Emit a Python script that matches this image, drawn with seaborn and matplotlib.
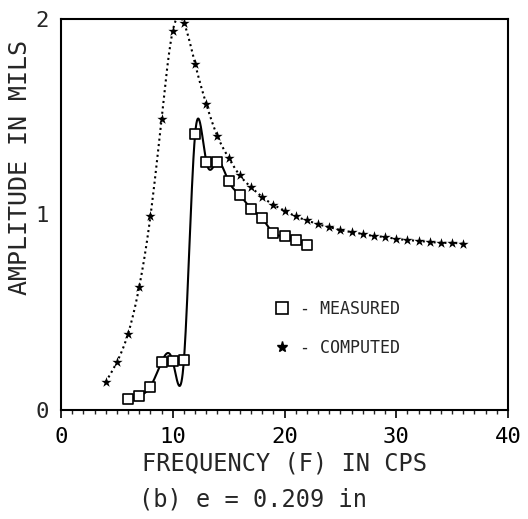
import numpy as np
import pandas as pd
import matplotlib
matplotlib.use("Agg")
import matplotlib.pyplot as plt
from matplotlib.lines import Line2D
from matplotlib.ticker import MultipleLocator
import seaborn as sns

# ---- data ----
freq_computed = [4, 5, 6, 7, 8, 9, 10, 11, 12, 13, 14, 15, 16, 17, 18, 19, 20,
                 21, 22, 23, 24, 25, 26, 27, 28, 29, 30, 31, 32, 33, 34, 35, 36]
amp_computed = [0.143, 0.245, 0.39, 0.63, 0.99, 1.49, 1.94, 1.98, 1.77, 1.565,
                1.40, 1.29, 1.20, 1.14, 1.09, 1.05, 1.02, 0.99, 0.97, 0.95,
                0.936, 0.92, 0.91, 0.90, 0.89, 0.885, 0.875, 0.87, 0.865,
                0.86, 0.855, 0.855, 0.85]

freq_measured = [6, 7, 8, 9, 10, 11, 12, 13, 14, 15, 16, 17, 18, 19, 20, 21, 22]
amp_measured = [0.056, 0.072, 0.12, 0.245, 0.25, 0.256, 1.41, 1.27, 1.27, 1.17,
                1.10, 1.03, 0.98, 0.905, 0.89, 0.87, 0.845]

x_ticks = [0, 10, 20, 30, 40]
y_ticks = [0, 1, 2]
legend_labels = ["- MEASURED", "- COMPUTED"]
x_title = "FREQUENCY (F) IN CPS"
y_title = "AMPLITUDE IN MILS"
subtitle = "(b) e = 0.209 in"


def natural_spline(x, y, n=600):
    """Smooth curve drawn through the data points (natural cubic spline)."""
    x = np.asarray(x, float)
    y = np.asarray(y, float)
    k = len(x)
    h = np.diff(x)
    A = np.zeros((k, k))
    r = np.zeros(k)
    A[0, 0] = 1.0
    A[-1, -1] = 1.0
    for i in range(1, k - 1):
        A[i, i - 1] = h[i - 1]
        A[i, i] = 2 * (h[i - 1] + h[i])
        A[i, i + 1] = h[i]
        r[i] = 6 * ((y[i + 1] - y[i]) / h[i] - (y[i] - y[i - 1]) / h[i - 1])
    M = np.linalg.solve(A, r)
    xs = np.linspace(x[0], x[-1], n)
    idx = np.clip(np.searchsorted(x, xs) - 1, 0, k - 2)
    x0, x1 = x[idx], x[idx + 1]
    hh = x1 - x0
    a = (x1 - xs) / hh
    b = (xs - x0) / hh
    ys = (a * y[idx] + b * y[idx + 1]
          + ((a ** 3 - a) * M[idx] + (b ** 3 - b) * M[idx + 1]) * hh ** 2 / 6)
    return pd.DataFrame({"x": xs, "y": ys})


sns.set_theme(style="white")
plt.rcParams["font.family"] = ["DejaVu Sans Mono", "DejaVu Sans"]

fig = plt.figure(figsize=(5.28, 5.19), dpi=100)
ax = fig.add_axes([61 / 528, 1 - 410 / 519, 447 / 528, 391 / 519])

comp_curve = natural_spline(freq_computed, amp_computed)
meas_curve = natural_spline(freq_measured, amp_measured)

sns.lineplot(data=comp_curve, x="x", y="y", ax=ax, color="black",
             linewidth=1.5, linestyle=(0, (1, 1.6)), sort=False)
sns.lineplot(data=meas_curve, x="x", y="y", ax=ax, color="black",
             linewidth=1.5, sort=False)

sns.scatterplot(x=freq_computed, y=amp_computed, ax=ax, marker="*", s=60,
                color="black", linewidth=0, zorder=3)
sns.scatterplot(x=freq_measured, y=amp_measured, ax=ax, marker="s", s=60,
                color="white", edgecolor="black", linewidth=1.2, zorder=4)

ax.set_xlim(x_ticks[0], x_ticks[-1])
ax.set_ylim(y_ticks[0], y_ticks[-1])
ax.set_xticks(x_ticks)
ax.set_yticks(y_ticks)
ax.xaxis.set_minor_locator(MultipleLocator(1))
ax.tick_params(axis="x", which="major", bottom=True, direction="out",
               length=6, width=1.2, labelsize=16, pad=6, colors="black")
ax.tick_params(axis="x", which="minor", bottom=True, direction="out",
               length=3, width=1.0)
ax.tick_params(axis="y", left=True, length=0, labelsize=16, pad=9)

for sp in ax.spines.values():
    sp.set_color("black")
    sp.set_linewidth(1.5)

ax.set_xlabel(x_title, fontsize=17)
ax.xaxis.set_label_coords(0.5, -0.105)
ax.set_ylabel(y_title, fontsize=18)
ax.yaxis.set_label_coords(-0.064, 0.62)

fig.text(253 / 528, 1 - 500 / 519, subtitle, ha="center", va="center",
         fontsize=17)

handles = [
    Line2D([], [], marker="s", ls="none", mfc="white", mec="black", ms=8,
           mew=1.2),
    Line2D([], [], marker="*", ls="none", color="black", ms=8),
]
ax.legend(handles, legend_labels, loc="center left",
          bbox_to_anchor=(0.476, 0.208), frameon=False, prop={"size": 12},
          handlelength=1.0, handletextpad=0.6, labelspacing=1.25,
          borderaxespad=0, borderpad=0)

fig.savefig("out.png", dpi=100, facecolor="white")
